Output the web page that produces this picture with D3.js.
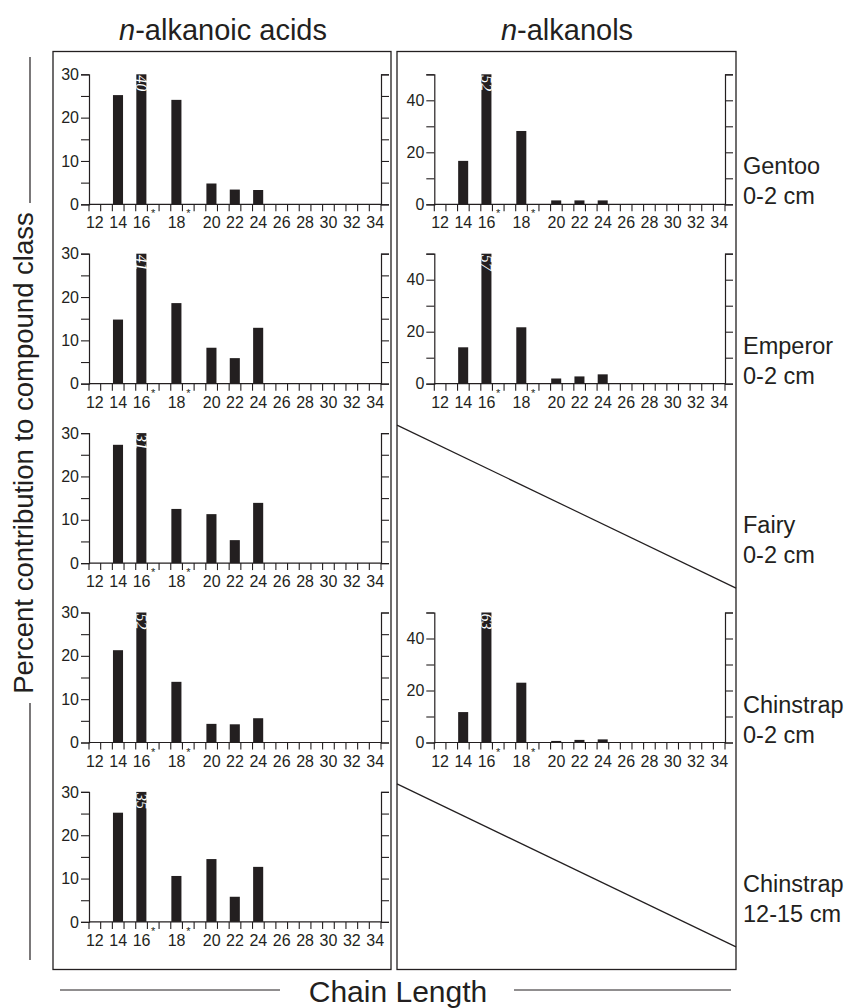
<!DOCTYPE html>
<html><head><meta charset="utf-8">
<script src="https://cdn.jsdelivr.net/npm/d3@7/dist/d3.min.js"></script>
<style>body{margin:0;background:#fff}svg{display:block}</style>
</head><body>
<svg id="c" width="857" height="1008"></svg>
<script>
// x slots (band scale): even chain lengths, odd spacers, and two asterisk slots
const slotLabels = ["12","","14","","16","*","","18","*","","20","","22","","24","","26","","28","","30","","32","","34"];
const chainLengths = [14,16,18,20,22,24];
const rowNames = [["Gentoo","0-2 cm"],["Emperor","0-2 cm"],["Fairy","0-2 cm"],["Chinstrap","0-2 cm"],["Chinstrap","12-15 cm"]];
const columnTitles = ["alkanoic acids","alkanols"];
// n-alkanoic acids (% of class)
const acidsGentoo   = [25.2, 40, 24.1, 4.8, 3.4, 3.3];
const acidsEmperor  = [14.8, 41, 18.6, 8.3, 5.9, 12.9];
const acidsFairy    = [27.3, 31, 12.5, 11.3, 5.3, 13.9];
const acidsChin02   = [21.3, 52, 14.0, 4.3, 4.2, 5.6];
const acidsChin1215 = [25.2, 35, 10.6, 14.5, 5.8, 12.7];
// n-alkanols (% of class); null = no data
const alkGentoo   = [16.7, 52, 28.2, 1.5, 1.5, 1.5];
const alkEmperor  = [14.0, 57, 21.7, 2.0, 2.8, 3.6];
const alkFairy    = null;
const alkChin02   = [11.7, 63, 23.0, 0.6, 1.0, 1.2];
const alkChin1215 = null;
const acidTicks = [0,5,10,15,20,25,30];
const acidLabels = [0,10,20,30];
const alkTicks = [0,10,20,30,40,50];
const alkLabels = [0,20,40];

const acids = [acidsGentoo, acidsEmperor, acidsFairy, acidsChin02, acidsChin1215];
const alks  = [alkGentoo, alkEmperor, alkFairy, alkChin02, alkChin1215];

const svg = d3.select("#c");
const font = "'Liberation Sans', Arial, sans-serif";
const ink = "#231f20";

const boxTop = 51.5, boxBottom = 969.5;
const boxes = [{x0:53, x1:391, ax0:89, ax1:381}, {x0:397, x1:736, ax0:434.3, ax1:725}];
const rowTop0 = 74.3, rowStep = 179.4, plotH = 130;

// frames
boxes.forEach(b => {
  svg.append("rect").attr("x", b.x0).attr("y", boxTop).attr("width", b.x1-b.x0).attr("height", boxBottom-boxTop)
    .attr("fill","none").attr("stroke", ink).attr("stroke-width", 1.3);
});

// column titles
[223, 567].forEach((cx, i) => {
  const t = svg.append("text").attr("x", cx).attr("y", 40).attr("text-anchor","middle")
    .attr("font-family", font).attr("font-size", 29).attr("fill", ink);
  t.append("tspan").attr("font-style","italic").text("n");
  t.append("tspan").text("-" + columnTitles[i]);
});

function drawPanel(col, row, values, maxV, ticks, labels) {
  const b = boxes[col];
  const top = rowTop0 + row*rowStep, zero = top + plotH;
  const x = d3.scaleBand().domain(d3.range(slotLabels.length)).range([b.ax0, b.ax1]).paddingInner(0).paddingOuter(0);
  const y = d3.scaleLinear().domain([0, maxV]).range([zero, top]);
  const g = svg.append("g");

  // bars
  const data = chainLengths.map((c, i) => ({c, v: values[i], slot: slotLabels.indexOf(String(c))}));
  g.selectAll("rect.bar").data(data).join("rect").attr("class","bar")
    .attr("x", d => x(d.slot) + 0.6).attr("width", x.bandwidth() - 1.6)
    .attr("y", d => y(Math.min(d.v, maxV))).attr("height", d => zero - y(Math.min(d.v, maxV)))
    .attr("fill", ink);
  g.selectAll("text.over").data(data.filter(d => d.v > maxV)).join("text").attr("class","over")
    .attr("transform", d => `translate(${x(d.slot) + x.bandwidth()/2},${y(maxV) + 1}) rotate(90)`)
    .attr("dy", "0.35em").attr("text-anchor","start")
    .attr("font-family","'Liberation Serif', 'Times New Roman', serif").attr("font-style","italic")
    .attr("font-size", 16).attr("fill","#fff").text(d => d.v);

  // y axes
  const yl = d3.axisLeft(y).tickValues(ticks).tickSize(8).tickPadding(2)
    .tickFormat(v => labels.includes(v) ? v : "");
  const gl = g.append("g").attr("transform", `translate(${b.ax0},0)`).call(yl);
  const yr = d3.axisRight(y).tickValues(ticks).tickSize(8).tickFormat("");
  const gr = g.append("g").attr("transform", `translate(${b.ax1},0)`).call(yr);
  [gl, gr].forEach(a => {
    a.select(".domain").attr("stroke", ink).attr("stroke-width", 1.2);
    a.selectAll(".tick line").attr("stroke", ink).attr("stroke-width", 1.1);
    a.selectAll("text").attr("font-family", font).attr("font-size", 16).attr("fill", ink);
  });

  // x axis: line, boundary ticks, labels
  g.append("line").attr("x1", b.ax0).attr("x2", b.ax1).attr("y1", zero).attr("y2", zero)
    .attr("stroke", ink).attr("stroke-width", 1.2);
  const bounds = d3.range(slotLabels.length + 1).map(i => i < slotLabels.length ? x(i) : b.ax1);
  g.selectAll("line.xt").data(bounds).join("line").attr("class","xt")
    .attr("x1", d => d).attr("x2", d => d).attr("y1", zero).attr("y2", zero + 7)
    .attr("stroke", ink).attr("stroke-width", 1.1);
  const labs = slotLabels.map((l, i) => ({l, i})).filter(d => d.l !== "");
  g.selectAll("text.xl").data(labs).join("text").attr("class","xl")
    .attr("x", d => x(d.i) + x.bandwidth()/2)
    .attr("y", d => d.l === "*" ? zero + 13 : zero + 24)
    .attr("text-anchor","middle").attr("font-family", font)
    .attr("font-size", d => d.l === "*" ? 11 : 16).attr("fill", ink).text(d => d.l);
}

function drawEmpty(col, row) {
  const b = boxes[col];
  const top = rowTop0 + row*rowStep;
  svg.append("line").attr("x1", b.x0).attr("y1", top - 8).attr("x2", b.x1).attr("y2", top + plotH + 25)
    .attr("stroke", ink).attr("stroke-width", 1.2);
}

for (let r = 0; r < 5; r++) {
  drawPanel(0, r, acids[r], 30, acidTicks, acidLabels);
  if (alks[r]) drawPanel(1, r, alks[r], 50, alkTicks, alkLabels);
  else drawEmpty(1, r);
  const top = rowTop0 + r*rowStep;
  const t = svg.append("text").attr("x", 743).attr("font-family", font).attr("font-size", 23.5).attr("fill", ink);
  t.append("tspan").attr("x", 743).attr("y", top + 100).text(rowNames[r][0]);
  t.append("tspan").attr("x", 743).attr("y", top + 130).text(rowNames[r][1]);
}

// y title
svg.append("text").attr("transform","translate(33,453) rotate(-90)").attr("text-anchor","middle")
  .attr("font-family", font).attr("font-size", 27.5).attr("fill", ink)
  .text("Percent contribution to compound class");
svg.append("line").attr("x1",30).attr("x2",30).attr("y1",57).attr("y2",203).attr("stroke",ink).attr("stroke-width",1.2);
svg.append("line").attr("x1",30).attr("x2",30).attr("y1",703).attr("y2",960).attr("stroke",ink).attr("stroke-width",1.2);

// x title
svg.append("text").attr("x", 398).attr("y", 1002).attr("text-anchor","middle")
  .attr("font-family", font).attr("font-size", 30).attr("fill", ink).text("Chain Length");
svg.append("line").attr("x1",60).attr("x2",280).attr("y1",990).attr("y2",990).attr("stroke",ink).attr("stroke-width",1.2);
svg.append("line").attr("x1",514).attr("x2",731).attr("y1",990).attr("y2",990).attr("stroke",ink).attr("stroke-width",1.2);
</script>
</body></html>
